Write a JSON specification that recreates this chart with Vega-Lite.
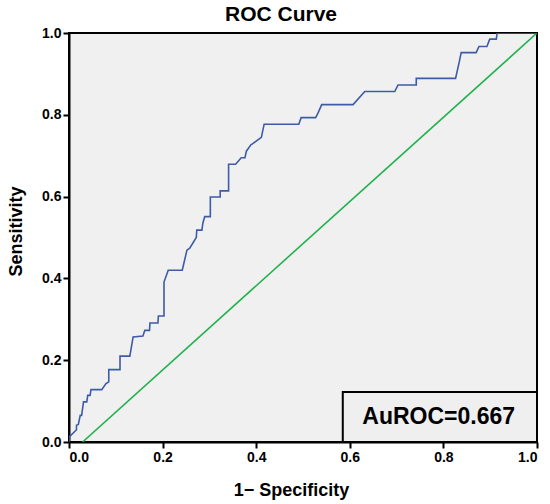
{
  "$schema": "https://vega.github.io/schema/vega-lite/v6.json",
  "autosize": "none",
  "width": 468,
  "height": 409,
  "padding": {"left": 69, "top": 33, "right": 13, "bottom": 62},
  "background": "white",
  "title": {
    "text": "ROC Curve",
    "font": "Liberation Sans",
    "fontSize": 21,
    "fontWeight": "bold",
    "color": "black",
    "anchor": "middle",
    "baseline": "alphabetic",
    "offset": 11,
    "dx": -22,
    "dy": 27
  },
  "config": {
    "view": {"stroke": "black", "strokeWidth": 2, "fill": "#f0f0f0"},
    "axis": {
      "grid": false,
      "domainColor": "black",
      "domainWidth": 2,
      "tickColor": "black",
      "tickWidth": 2,
      "tickSize": 6,
      "labelColor": "black",
      "labelPadding": 2,
      "titleColor": "black",
      "format": ".1f"
    }
  },
  "datasets": {
    "roc": [
      {"i": 0, "fpr": 0.0, "tpr": 0.0},
      {"i": 1, "fpr": 0.0, "tpr": 0.012},
      {"i": 2, "fpr": 0.016, "tpr": 0.03},
      {"i": 3, "fpr": 0.016, "tpr": 0.041},
      {"i": 4, "fpr": 0.02, "tpr": 0.043},
      {"i": 5, "fpr": 0.024, "tpr": 0.065},
      {"i": 6, "fpr": 0.027, "tpr": 0.065},
      {"i": 7, "fpr": 0.031, "tpr": 0.098},
      {"i": 8, "fpr": 0.038, "tpr": 0.098},
      {"i": 9, "fpr": 0.04, "tpr": 0.114},
      {"i": 10, "fpr": 0.045, "tpr": 0.114},
      {"i": 11, "fpr": 0.047, "tpr": 0.128},
      {"i": 12, "fpr": 0.07, "tpr": 0.128},
      {"i": 13, "fpr": 0.079, "tpr": 0.143},
      {"i": 14, "fpr": 0.085, "tpr": 0.147},
      {"i": 15, "fpr": 0.085, "tpr": 0.177},
      {"i": 16, "fpr": 0.109, "tpr": 0.177},
      {"i": 17, "fpr": 0.109, "tpr": 0.21},
      {"i": 18, "fpr": 0.13, "tpr": 0.21},
      {"i": 19, "fpr": 0.137, "tpr": 0.257},
      {"i": 20, "fpr": 0.158, "tpr": 0.259},
      {"i": 21, "fpr": 0.162, "tpr": 0.273},
      {"i": 22, "fpr": 0.172, "tpr": 0.273},
      {"i": 23, "fpr": 0.173, "tpr": 0.291},
      {"i": 24, "fpr": 0.19, "tpr": 0.291},
      {"i": 25, "fpr": 0.191, "tpr": 0.308},
      {"i": 26, "fpr": 0.203, "tpr": 0.308},
      {"i": 27, "fpr": 0.203, "tpr": 0.391},
      {"i": 28, "fpr": 0.212, "tpr": 0.42},
      {"i": 29, "fpr": 0.242, "tpr": 0.42},
      {"i": 30, "fpr": 0.252, "tpr": 0.469},
      {"i": 31, "fpr": 0.258, "tpr": 0.474},
      {"i": 32, "fpr": 0.272, "tpr": 0.5},
      {"i": 33, "fpr": 0.273, "tpr": 0.518},
      {"i": 34, "fpr": 0.284, "tpr": 0.518},
      {"i": 35, "fpr": 0.286, "tpr": 0.535},
      {"i": 36, "fpr": 0.29, "tpr": 0.551},
      {"i": 37, "fpr": 0.302, "tpr": 0.551},
      {"i": 38, "fpr": 0.302, "tpr": 0.599},
      {"i": 39, "fpr": 0.323, "tpr": 0.599},
      {"i": 40, "fpr": 0.323, "tpr": 0.614},
      {"i": 41, "fpr": 0.341, "tpr": 0.614},
      {"i": 42, "fpr": 0.341, "tpr": 0.679},
      {"i": 43, "fpr": 0.356, "tpr": 0.679},
      {"i": 44, "fpr": 0.368, "tpr": 0.695},
      {"i": 45, "fpr": 0.376, "tpr": 0.695},
      {"i": 46, "fpr": 0.379, "tpr": 0.711},
      {"i": 47, "fpr": 0.389, "tpr": 0.727},
      {"i": 48, "fpr": 0.392, "tpr": 0.729},
      {"i": 49, "fpr": 0.411, "tpr": 0.745},
      {"i": 50, "fpr": 0.417, "tpr": 0.777},
      {"i": 51, "fpr": 0.491, "tpr": 0.777},
      {"i": 52, "fpr": 0.496, "tpr": 0.793},
      {"i": 53, "fpr": 0.527, "tpr": 0.793},
      {"i": 54, "fpr": 0.532, "tpr": 0.804},
      {"i": 55, "fpr": 0.54, "tpr": 0.825},
      {"i": 56, "fpr": 0.607, "tpr": 0.825},
      {"i": 57, "fpr": 0.632, "tpr": 0.857},
      {"i": 58, "fpr": 0.696, "tpr": 0.857},
      {"i": 59, "fpr": 0.703, "tpr": 0.873},
      {"i": 60, "fpr": 0.742, "tpr": 0.873},
      {"i": 61, "fpr": 0.742, "tpr": 0.889},
      {"i": 62, "fpr": 0.826, "tpr": 0.889},
      {"i": 63, "fpr": 0.834, "tpr": 0.93},
      {"i": 64, "fpr": 0.838, "tpr": 0.952},
      {"i": 65, "fpr": 0.87, "tpr": 0.952},
      {"i": 66, "fpr": 0.876, "tpr": 0.967},
      {"i": 67, "fpr": 0.893, "tpr": 0.967},
      {"i": 68, "fpr": 0.899, "tpr": 0.985},
      {"i": 69, "fpr": 0.913, "tpr": 0.985},
      {"i": 70, "fpr": 0.915, "tpr": 1.0},
      {"i": 71, "fpr": 1.0, "tpr": 1.0}
    ],
    "ref": [
      {"i": 0, "fpr": 0.029, "tpr": 0.0},
      {"i": 1, "fpr": 1.0, "tpr": 1.0}
    ],
    "box": [
      {"x1": 0.585, "x2": 1.0, "y1": 0.0, "y2": 0.122, "cx": 0.79, "cy": 0.061, "label": "AuROC=0.667"}
    ]
  },
  "layer": [
    {
      "data": {"name": "ref"},
      "mark": {"type": "line", "color": "#22b24c", "strokeWidth": 1.6, "clip": true},
      "encoding": {
        "x": {
          "field": "fpr", "type": "quantitative",
          "scale": {"domain": [0, 1], "nice": false, "zero": false},
          "axis": {
            "values": [0, 0.2, 0.4, 0.6, 0.8, 1.0],
            "labelFont": "Liberation Sans",
            "labelFontSize": 14,
            "labelFontWeight": "bold",
            "titleFont": "Liberation Sans",
            "titleFontSize": 18,
            "titleFontWeight": "bold",
            "title": "1− Specificity",
            "titleX": 222,
            "titleY": 53,
            "titleBaseline": "alphabetic",
            "titleAlign": "center"
          }
        },
        "y": {
          "field": "tpr", "type": "quantitative",
          "scale": {"domain": [0, 1], "nice": false, "zero": false},
          "axis": {
            "values": [0, 0.2, 0.4, 0.6, 0.8, 1.0],
            "labelFont": "Liberation Sans",
            "labelFontSize": 14,
            "labelFontWeight": "bold",
            "titleFont": "Liberation Sans",
            "titleFontSize": 18,
            "titleFontWeight": "bold",
            "title": "Sensitivity",
            "titleX": -48,
            "titleY": 198,
            "titleBaseline": "alphabetic",
            "titleAlign": "center",
            "titleAngle": -90
          }
        },
        "order": {"field": "i", "type": "quantitative"}
      }
    },
    {
      "data": {"name": "roc"},
      "mark": {"type": "line", "color": "#3d5ca5", "strokeWidth": 1.6, "clip": true},
      "encoding": {
        "x": {"field": "fpr", "type": "quantitative"},
        "y": {"field": "tpr", "type": "quantitative"},
        "order": {"field": "i", "type": "quantitative"}
      }
    },
    {
      "data": {"name": "box"},
      "mark": {"type": "rect", "fill": "#efefef", "stroke": "black", "strokeWidth": 2},
      "encoding": {
        "x": {"field": "x1", "type": "quantitative"},
        "x2": {"field": "x2"},
        "y": {"field": "y1", "type": "quantitative"},
        "y2": {"field": "y2"}
      }
    },
    {
      "data": {"name": "box"},
      "mark": {"type": "text", "font": "Liberation Sans", "fontSize": 23, "fontWeight": "bold", "color": "black", "align": "center", "baseline": "middle"},
      "encoding": {
        "x": {"field": "cx", "type": "quantitative"},
        "y": {"field": "cy", "type": "quantitative"},
        "text": {"field": "label"}
      }
    }
  ]
}
